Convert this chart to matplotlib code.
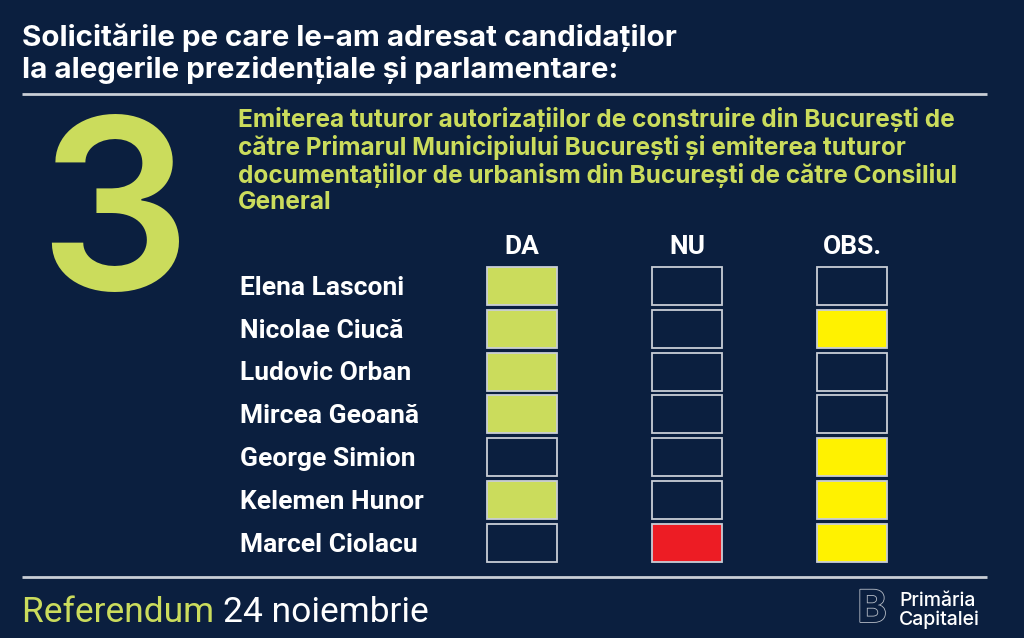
"""Candidate answers chart: Referendum 24 noiembrie, question 3."""

import matplotlib

matplotlib.use("Agg")
import matplotlib.patheffects as pe
import matplotlib.pyplot as plt
from matplotlib.patches import Rectangle
from matplotlib.transforms import blended_transform_factory

BG = "#0b1f3f"
LIME = "#cbdc5c"
YELLOW = "#fff200"
RED = "#ed1c24"
EDGE = "#c9ced6"

NARROW = ["Roboto", "DejaVu Sans"]
SANS = ["Inter", "Roboto", "DejaVu Sans"]

title_lines = [
    "Solicitările pe care le-am adresat candidaților",
    "la alegerile prezidențiale și parlamentare:",
]
question_number = "3"
question_lines = [
    "Emiterea tuturor autorizațiilor de construire din București de",
    "către Primarul Municipiului București și emiterea tuturor",
    "documentațiilor de urbanism din București de către Consiliul",
    "General",
]
columns = ["DA", "NU", "OBS."]
candidates = [
    "Elena Lasconi",
    "Nicolae Ciucă",
    "Ludovic Orban",
    "Mircea Geoană",
    "George Simion",
    "Kelemen Hunor",
    "Marcel Ciolacu",
]
# 1 = marked, 0 = empty box; order DA, NU, OBS.
answers = [
    [1, 0, 0],
    [1, 0, 1],
    [1, 0, 0],
    [1, 0, 0],
    [0, 0, 1],
    [1, 0, 1],
    [0, 1, 1],
]
mark_colors = [LIME, RED, YELLOW]

W, H = 1024, 638
fig = plt.figure(figsize=(W / 100, H / 100), dpi=100, facecolor=BG)

# background axes in pixel coordinates for the free text and rules
bg = fig.add_axes([0, 0, 1, 1])
bg.set_xlim(0, W)
bg.set_ylim(H, 0)
bg.axis("off")
bg.set_facecolor(BG)

for i, line in enumerate(title_lines):
    bg.text(22, 38 + i * 32, line, color="white", fontsize=21.3, fontweight="bold",
            family=SANS, va="center", ha="left")
bg.plot([22, 987], [94, 94], color=EDGE, lw=2, solid_capstyle="butt")

bg.text(38, 203, question_number, color=LIME, fontsize=172, fontweight="semibold",
        family=SANS, va="center_baseline", ha="left")

for i, line in enumerate(question_lines):
    bg.text(238, 120 + i * 27.6, line, color=LIME, fontsize=17.6, fontweight="bold",
            family=SANS, va="center", ha="left")

bg.plot([22, 987], [577, 577], color=EDGE, lw=2, solid_capstyle="butt")
ref = bg.text(22, 612, "Referendum ", color=LIME, fontsize=25.5, family=NARROW,
              va="center", ha="left")
bg.annotate("24 noiembrie", xy=(1, 0.5), xycoords=ref, color="white",
            fontsize=25.5, family=NARROW, va="center", ha="left")

# logo
bg.text(872, 610, "B", color=BG, fontsize=32, fontweight="bold", family=SANS,
        va="center", ha="center",
        path_effects=[pe.withStroke(linewidth=1.2, foreground="#b8bec8")])
bg.text(899, 601, "Primăria", color="white", fontsize=14, family=SANS,
        fontweight="medium", va="center", ha="left")
bg.text(899, 620, "Capitalei", color="white", fontsize=14, family=SANS,
        fontweight="medium", va="center", ha="left")

# answer grid: columns and rows in index units
col_step, row_step = 165, 42.83
left = 522 - col_step / 2
top = 286 - row_step / 2
gw, gh = col_step * len(columns), row_step * len(candidates)
ax = fig.add_axes([left / W, 1 - (top + gh) / H, gw / W, gh / H])
ax.set_xlim(-0.5, len(columns) - 0.5)
ax.set_ylim(len(candidates) - 0.5, -0.5)
ax.axis("off")
ax.patch.set_alpha(0)

cell_w, cell_h = 70 / col_step, 38 / row_step
for r, row in enumerate(answers):
    for c, val in enumerate(row):
        face = mark_colors[c] if val else BG
        ax.add_patch(Rectangle((c - cell_w / 2, r - cell_h / 2), cell_w, cell_h,
                               facecolor=face, edgecolor=EDGE, lw=1.3))

for c, name in enumerate(columns):
    ax.text(c, -0.92, name, color="white", fontsize=19, fontweight="bold",
            family=NARROW, ha="center", va="center", clip_on=False)

name_tr = blended_transform_factory(bg.transData, ax.transData)
for r, name in enumerate(candidates):
    ax.text(240, r + 0.04, name, transform=name_tr, color="white", fontsize=19,
            fontweight="bold", family=NARROW, ha="left", va="center", clip_on=False)

fig.savefig("out.png", dpi=100, facecolor=BG)
